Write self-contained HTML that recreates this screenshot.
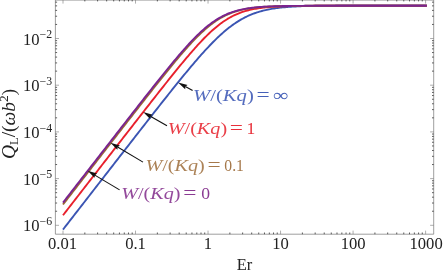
<!DOCTYPE html><html><head><meta charset="utf-8"><style>html,body{margin:0;padding:0;background:#fff}svg{display:block;will-change:transform}text{font-family:"Liberation Serif",serif}</style></head><body>
<svg width="443" height="277" viewBox="0 0 443 277">
<rect width="443" height="277" fill="#fff"/>
<polyline fill="none" stroke="#3b55b3" stroke-width="1.9" stroke-linejoin="round" points="63.00,229.58 64.21,228.01 65.43,226.45 66.64,224.89 67.85,223.33 69.06,221.77 70.28,220.20 71.49,218.64 72.70,217.08 73.91,215.52 75.13,213.96 76.34,212.40 77.55,210.83 78.77,209.27 79.98,207.71 81.19,206.15 82.40,204.59 83.62,203.03 84.83,201.46 86.04,199.90 87.26,198.34 88.47,196.78 89.68,195.22 90.89,193.66 92.11,192.10 93.32,190.53 94.53,188.97 95.74,187.41 96.96,185.85 98.17,184.29 99.38,182.73 100.60,181.17 101.81,179.61 103.02,178.05 104.23,176.49 105.45,174.92 106.66,173.36 107.87,171.80 109.09,170.24 110.30,168.68 111.51,167.12 112.72,165.56 113.94,164.00 115.15,162.44 116.36,160.88 117.57,159.32 118.79,157.76 120.00,156.20 121.21,154.65 122.43,153.09 123.64,151.53 124.85,149.97 126.06,148.41 127.28,146.85 128.49,145.30 129.70,143.74 130.92,142.18 132.13,140.62 133.34,139.07 134.55,137.51 135.77,135.96 136.98,134.40 138.19,132.85 139.40,131.29 140.62,129.74 141.83,128.19 143.04,126.63 144.26,125.08 145.47,123.53 146.68,121.98 147.89,120.43 149.11,118.88 150.32,117.33 151.53,115.79 152.75,114.24 153.96,112.69 155.17,111.15 156.38,109.61 157.60,108.07 158.81,106.53 160.02,104.99 161.23,103.45 162.45,101.92 163.66,100.38 164.87,98.85 166.09,97.32 167.30,95.79 168.51,94.27 169.72,92.74 170.94,91.22 172.15,89.71 173.36,88.19 174.58,86.68 175.79,85.17 177.00,83.67 178.21,82.17 179.43,80.67 180.64,79.18 181.85,77.69 183.06,76.20 184.28,74.72 185.49,73.25 186.70,71.78 187.92,70.32 189.13,68.86 190.34,67.42 191.55,65.97 192.77,64.54 193.98,63.11 195.19,61.69 196.41,60.28 197.62,58.88 198.83,57.49 200.04,56.11 201.26,54.74 202.47,53.39 203.68,52.04 204.89,50.71 206.11,49.38 207.32,48.08 208.53,46.78 209.75,45.51 210.96,44.24 212.17,43.00 213.38,41.77 214.60,40.56 215.81,39.36 217.02,38.19 218.24,37.03 219.45,35.89 220.66,34.78 221.87,33.68 223.09,32.61 224.30,31.56 225.51,30.53 226.72,29.53 227.94,28.55 229.15,27.59 230.36,26.66 231.58,25.75 232.79,24.87 234.00,24.01 235.21,23.18 236.43,22.38 237.64,21.60 238.85,20.84 240.07,20.11 241.28,19.41 242.49,18.73 243.70,18.07 244.92,17.44 246.13,16.84 247.34,16.26 248.55,15.70 249.77,15.17 250.98,14.66 252.19,14.17 253.41,13.70 254.62,13.26 255.83,12.83 257.04,12.42 258.26,12.04 259.47,11.67 260.68,11.32 261.90,10.99 263.11,10.67 264.32,10.38 265.53,10.09 266.75,9.82 267.96,9.57 269.17,9.33 270.38,9.10 271.60,8.89 272.81,8.68 274.02,8.49 275.24,8.31 276.45,8.14 277.66,7.98 278.87,7.82 280.09,7.68 281.30,7.55 282.51,7.42 283.73,7.30 284.94,7.19 286.15,7.08 287.36,6.98 288.58,6.89 289.79,6.80 291.00,6.72 292.21,6.64 293.43,6.56 294.64,6.50 295.85,6.43 297.07,6.37 298.28,6.31 299.49,6.26 300.70,6.21 301.92,6.16 303.13,6.12 304.34,6.08 305.56,6.04 306.77,6.00 307.98,5.97 309.19,5.93 310.41,5.90 311.62,5.88 312.83,5.85 314.04,5.83 315.26,5.80 316.47,5.78 317.68,5.76 318.90,5.74 320.11,5.72 321.32,5.71 322.53,5.69 323.75,5.67 324.96,5.66 326.17,5.65 327.39,5.64 328.60,5.62 329.81,5.61 331.02,5.60 332.24,5.59 333.45,5.59 334.66,5.58 335.87,5.57 337.09,5.56 338.30,5.56 339.51,5.55 340.73,5.54 341.94,5.54 343.15,5.53 344.36,5.53 345.58,5.52 346.79,5.52 348.00,5.51 349.22,5.51 350.43,5.51 351.64,5.50 352.85,5.50 354.07,5.50 355.28,5.50 356.49,5.49 357.70,5.49 358.92,5.49 360.13,5.49 361.34,5.48 362.56,5.48 363.77,5.48 364.98,5.48 366.19,5.48 367.41,5.48 368.62,5.47 369.83,5.47 371.05,5.47 372.26,5.47 373.47,5.47 374.68,5.47 375.90,5.47 377.11,5.47 378.32,5.47 379.53,5.47 380.75,5.46 381.96,5.46 383.17,5.46 384.39,5.46 385.60,5.46 386.81,5.46 388.02,5.46 389.24,5.46 390.45,5.46 391.66,5.46 392.88,5.46 394.09,5.46 395.30,5.46 396.51,5.46 397.73,5.46 398.94,5.46 400.15,5.46 401.36,5.46 402.58,5.46 403.79,5.46 405.00,5.46 406.22,5.46 407.43,5.46 408.64,5.46 409.85,5.46 411.07,5.46 412.28,5.46 413.49,5.46 414.71,5.46 415.92,5.46 417.13,5.46 418.34,5.46 419.56,5.46 420.77,5.46 421.98,5.46 423.19,5.46 424.41,5.46 425.62,5.46 426.83,5.46"/>
<polyline fill="none" stroke="#e8202c" stroke-width="1.9" stroke-linejoin="round" points="63.00,215.27 64.21,213.71 65.43,212.14 66.64,210.58 67.85,209.02 69.06,207.46 70.28,205.90 71.49,204.33 72.70,202.77 73.91,201.21 75.13,199.65 76.34,198.09 77.55,196.53 78.77,194.96 79.98,193.40 81.19,191.84 82.40,190.28 83.62,188.72 84.83,187.15 86.04,185.59 87.26,184.03 88.47,182.47 89.68,180.91 90.89,179.35 92.11,177.78 93.32,176.22 94.53,174.66 95.74,173.10 96.96,171.54 98.17,169.98 99.38,168.42 100.60,166.85 101.81,165.29 103.02,163.73 104.23,162.17 105.45,160.61 106.66,159.05 107.87,157.49 109.09,155.93 110.30,154.37 111.51,152.81 112.72,151.24 113.94,149.68 115.15,148.12 116.36,146.56 117.57,145.00 118.79,143.44 120.00,141.88 121.21,140.32 122.43,138.76 123.64,137.20 124.85,135.65 126.06,134.09 127.28,132.53 128.49,130.97 129.70,129.41 130.92,127.85 132.13,126.30 133.34,124.74 134.55,123.18 135.77,121.63 136.98,120.07 138.19,118.51 139.40,116.96 140.62,115.41 141.83,113.85 143.04,112.30 144.26,110.75 145.47,109.19 146.68,107.64 147.89,106.09 149.11,104.54 150.32,102.99 151.53,101.45 152.75,99.90 153.96,98.36 155.17,96.81 156.38,95.27 157.60,93.73 158.81,92.19 160.02,90.65 161.23,89.12 162.45,87.59 163.66,86.06 164.87,84.53 166.09,83.00 167.30,81.48 168.51,79.96 169.72,78.44 170.94,76.93 172.15,75.42 173.36,73.91 174.58,72.41 175.79,70.91 177.00,69.42 178.21,67.93 179.43,66.45 180.64,64.97 181.85,63.50 183.06,62.04 184.28,60.59 185.49,59.14 186.70,57.70 187.92,56.27 189.13,54.85 190.34,53.44 191.55,52.04 192.77,50.65 193.98,49.27 195.19,47.90 196.41,46.55 197.62,45.21 198.83,43.89 200.04,42.59 201.26,41.30 202.47,40.02 203.68,38.77 204.89,37.53 206.11,36.32 207.32,35.12 208.53,33.95 209.75,32.80 210.96,31.67 212.17,30.57 213.38,29.49 214.60,28.43 215.81,27.41 217.02,26.41 218.24,25.43 219.45,24.49 220.66,23.57 221.87,22.68 223.09,21.83 224.30,21.00 225.51,20.20 226.72,19.43 227.94,18.68 229.15,17.97 230.36,17.29 231.58,16.64 232.79,16.01 234.00,15.41 235.21,14.84 236.43,14.30 237.64,13.78 238.85,13.29 240.07,12.83 241.28,12.39 242.49,11.97 243.70,11.58 244.92,11.20 246.13,10.85 247.34,10.52 248.55,10.21 249.77,9.91 250.98,9.63 252.19,9.37 253.41,9.13 254.62,8.90 255.83,8.69 257.04,8.49 258.26,8.30 259.47,8.12 260.68,7.96 261.90,7.80 263.11,7.66 264.32,7.53 265.53,7.40 266.75,7.29 267.96,7.18 269.17,7.08 270.38,6.98 271.60,6.89 272.81,6.81 274.02,6.73 275.24,6.66 276.45,6.60 277.66,6.54 278.87,6.48 280.09,6.43 281.30,6.38 282.51,6.33 283.73,6.29 284.94,6.25 286.15,6.21 287.36,6.18 288.58,6.15 289.79,6.12 291.00,6.09 292.21,6.06 293.43,6.04 294.64,6.02 295.85,6.00 297.07,5.98 298.28,5.96 299.49,5.95 300.70,5.93 301.92,5.92 303.13,5.90 304.34,5.89 305.56,5.88 306.77,5.87 307.98,5.86 309.19,5.85 310.41,5.84 311.62,5.84 312.83,5.83 314.04,5.82 315.26,5.82 316.47,5.81 317.68,5.80 318.90,5.80 320.11,5.79 321.32,5.79 322.53,5.79 323.75,5.78 324.96,5.78 326.17,5.78 327.39,5.77 328.60,5.77 329.81,5.77 331.02,5.77 332.24,5.76 333.45,5.76 334.66,5.76 335.87,5.76 337.09,5.76 338.30,5.76 339.51,5.75 340.73,5.75 341.94,5.75 343.15,5.75 344.36,5.75 345.58,5.75 346.79,5.75 348.00,5.75 349.22,5.75 350.43,5.75 351.64,5.74 352.85,5.74 354.07,5.74 355.28,5.74 356.49,5.74 357.70,5.74 358.92,5.74 360.13,5.74 361.34,5.74 362.56,5.74 363.77,5.74 364.98,5.74 366.19,5.74 367.41,5.74 368.62,5.74 369.83,5.74 371.05,5.74 372.26,5.74 373.47,5.74 374.68,5.74 375.90,5.74 377.11,5.74 378.32,5.74 379.53,5.74 380.75,5.74 381.96,5.74 383.17,5.74 384.39,5.74 385.60,5.74 386.81,5.74 388.02,5.74 389.24,5.74 390.45,5.74 391.66,5.74 392.88,5.74 394.09,5.74 395.30,5.74 396.51,5.74 397.73,5.74 398.94,5.74 400.15,5.74 401.36,5.74 402.58,5.74 403.79,5.74 405.00,5.74 406.22,5.74 407.43,5.74 408.64,5.74 409.85,5.74 411.07,5.74 412.28,5.74 413.49,5.74 414.71,5.74 415.92,5.74 417.13,5.74 418.34,5.74 419.56,5.74 420.77,5.74 421.98,5.74 423.19,5.74 424.41,5.74 425.62,5.74 426.83,5.74"/>
<polyline fill="none" stroke="#9c6b33" stroke-width="1.9" stroke-linejoin="round" points="63.00,204.49 64.21,202.93 65.43,201.37 66.64,199.81 67.85,198.24 69.06,196.68 70.28,195.12 71.49,193.56 72.70,192.00 73.91,190.44 75.13,188.87 76.34,187.31 77.55,185.75 78.77,184.19 79.98,182.63 81.19,181.07 82.40,179.50 83.62,177.94 84.83,176.38 86.04,174.82 87.26,173.26 88.47,171.70 89.68,170.13 90.89,168.57 92.11,167.01 93.32,165.45 94.53,163.89 95.74,162.33 96.96,160.77 98.17,159.21 99.38,157.64 100.60,156.08 101.81,154.52 103.02,152.96 104.23,151.40 105.45,149.84 106.66,148.28 107.87,146.72 109.09,145.16 110.30,143.60 111.51,142.04 112.72,140.48 113.94,138.92 115.15,137.36 116.36,135.80 117.57,134.24 118.79,132.69 120.00,131.13 121.21,129.57 122.43,128.01 123.64,126.45 124.85,124.90 126.06,123.34 127.28,121.78 128.49,120.23 129.70,118.67 130.92,117.12 132.13,115.56 133.34,114.01 134.55,112.45 135.77,110.90 136.98,109.35 138.19,107.80 139.40,106.25 140.62,104.70 141.83,103.15 143.04,101.60 144.26,100.06 145.47,98.51 146.68,96.97 147.89,95.43 149.11,93.89 150.32,92.35 151.53,90.81 152.75,89.27 153.96,87.74 155.17,86.21 156.38,84.68 157.60,83.15 158.81,81.63 160.02,80.11 161.23,78.59 162.45,77.08 163.66,75.57 164.87,74.06 166.09,72.56 167.30,71.06 168.51,69.57 169.72,68.08 170.94,66.60 172.15,65.12 173.36,63.65 174.58,62.19 175.79,60.73 177.00,59.28 178.21,57.84 179.43,56.41 180.64,54.99 181.85,53.58 183.06,52.18 184.28,50.79 185.49,49.41 186.70,48.04 187.92,46.69 189.13,45.35 190.34,44.02 191.55,42.72 192.77,41.42 193.98,40.15 195.19,38.89 196.41,37.66 197.62,36.44 198.83,35.24 200.04,34.06 201.26,32.91 202.47,31.78 203.68,30.68 204.89,29.59 206.11,28.54 207.32,27.51 208.53,26.51 209.75,25.53 210.96,24.58 212.17,23.66 213.38,22.77 214.60,21.91 215.81,21.08 217.02,20.28 218.24,19.50 219.45,18.76 220.66,18.04 221.87,17.36 223.09,16.70 224.30,16.07 225.51,15.47 226.72,14.90 227.94,14.35 229.15,13.84 230.36,13.34 231.58,12.87 232.79,12.43 234.00,12.01 235.21,11.61 236.43,11.24 237.64,10.88 238.85,10.55 240.07,10.24 241.28,9.94 242.49,9.66 243.70,9.40 244.92,9.15 246.13,8.92 247.34,8.71 248.55,8.51 249.77,8.32 250.98,8.14 252.19,7.97 253.41,7.82 254.62,7.67 255.83,7.54 257.04,7.41 258.26,7.30 259.47,7.19 260.68,7.08 261.90,6.99 263.11,6.90 264.32,6.82 265.53,6.74 266.75,6.67 267.96,6.60 269.17,6.54 270.38,6.48 271.60,6.43 272.81,6.38 274.02,6.34 275.24,6.29 276.45,6.25 277.66,6.22 278.87,6.18 280.09,6.15 281.30,6.12 282.51,6.09 283.73,6.07 284.94,6.04 286.15,6.02 287.36,6.00 288.58,5.98 289.79,5.96 291.00,5.95 292.21,5.93 293.43,5.92 294.64,5.90 295.85,5.89 297.07,5.88 298.28,5.87 299.49,5.86 300.70,5.85 301.92,5.84 303.13,5.84 304.34,5.83 305.56,5.82 306.77,5.82 307.98,5.81 309.19,5.80 310.41,5.80 311.62,5.80 312.83,5.79 314.04,5.79 315.26,5.78 316.47,5.78 317.68,5.78 318.90,5.77 320.11,5.77 321.32,5.77 322.53,5.77 323.75,5.76 324.96,5.76 326.17,5.76 327.39,5.76 328.60,5.76 329.81,5.76 331.02,5.75 332.24,5.75 333.45,5.75 334.66,5.75 335.87,5.75 337.09,5.75 338.30,5.75 339.51,5.75 340.73,5.75 341.94,5.75 343.15,5.74 344.36,5.74 345.58,5.74 346.79,5.74 348.00,5.74 349.22,5.74 350.43,5.74 351.64,5.74 352.85,5.74 354.07,5.74 355.28,5.74 356.49,5.74 357.70,5.74 358.92,5.74 360.13,5.74 361.34,5.74 362.56,5.74 363.77,5.74 364.98,5.74 366.19,5.74 367.41,5.74 368.62,5.74 369.83,5.74 371.05,5.74 372.26,5.74 373.47,5.74 374.68,5.74 375.90,5.74 377.11,5.74 378.32,5.74 379.53,5.74 380.75,5.74 381.96,5.74 383.17,5.74 384.39,5.74 385.60,5.74 386.81,5.74 388.02,5.74 389.24,5.74 390.45,5.74 391.66,5.74 392.88,5.74 394.09,5.74 395.30,5.74 396.51,5.74 397.73,5.74 398.94,5.74 400.15,5.74 401.36,5.74 402.58,5.74 403.79,5.74 405.00,5.74 406.22,5.74 407.43,5.74 408.64,5.74 409.85,5.74 411.07,5.74 412.28,5.74 413.49,5.74 414.71,5.74 415.92,5.74 417.13,5.74 418.34,5.74 419.56,5.74 420.77,5.74 421.98,5.74 423.19,5.74 424.41,5.74 425.62,5.74 426.83,5.74"/>
<polyline fill="none" stroke="#7a2391" stroke-width="1.9" stroke-linejoin="round" points="63.00,202.62 64.21,201.06 65.43,199.49 66.64,197.93 67.85,196.37 69.06,194.81 70.28,193.25 71.49,191.69 72.70,190.12 73.91,188.56 75.13,187.00 76.34,185.44 77.55,183.88 78.77,182.32 79.98,180.75 81.19,179.19 82.40,177.63 83.62,176.07 84.83,174.51 86.04,172.95 87.26,171.38 88.47,169.82 89.68,168.26 90.89,166.70 92.11,165.14 93.32,163.58 94.53,162.02 95.74,160.46 96.96,158.89 98.17,157.33 99.38,155.77 100.60,154.21 101.81,152.65 103.02,151.09 104.23,149.53 105.45,147.97 106.66,146.41 107.87,144.85 109.09,143.29 110.30,141.73 111.51,140.17 112.72,138.61 113.94,137.05 115.15,135.49 116.36,133.93 117.57,132.37 118.79,130.82 120.00,129.26 121.21,127.70 122.43,126.14 123.64,124.59 124.85,123.03 126.06,121.47 127.28,119.92 128.49,118.36 129.70,116.81 130.92,115.25 132.13,113.70 133.34,112.14 134.55,110.59 135.77,109.04 136.98,107.49 138.19,105.94 139.40,104.39 140.62,102.84 141.83,101.29 143.04,99.75 144.26,98.20 145.47,96.66 146.68,95.12 147.89,93.58 149.11,92.04 150.32,90.50 151.53,88.97 152.75,87.44 153.96,85.90 155.17,84.38 156.38,82.85 157.60,81.33 158.81,79.81 160.02,78.29 161.23,76.78 162.45,75.27 163.66,73.76 164.87,72.26 166.09,70.76 167.30,69.27 168.51,67.79 169.72,66.30 170.94,64.83 172.15,63.36 173.36,61.90 174.58,60.44 175.79,59.00 177.00,57.56 178.21,56.13 179.43,54.71 180.64,53.30 181.85,51.90 183.06,50.51 184.28,49.13 185.49,47.77 186.70,46.42 187.92,45.08 189.13,43.76 190.34,42.46 191.55,41.17 192.77,39.90 193.98,38.64 195.19,37.41 196.41,36.20 197.62,35.00 198.83,33.83 200.04,32.68 201.26,31.56 202.47,30.46 203.68,29.38 204.89,28.33 206.11,27.31 207.32,26.31 208.53,25.34 209.75,24.40 210.96,23.48 212.17,22.60 213.38,21.74 214.60,20.92 215.81,20.12 217.02,19.35 218.24,18.61 219.45,17.90 220.66,17.22 221.87,16.57 223.09,15.95 224.30,15.36 225.51,14.79 226.72,14.25 227.94,13.74 229.15,13.25 230.36,12.78 231.58,12.35 232.79,11.93 234.00,11.54 235.21,11.17 236.43,10.82 237.64,10.49 238.85,10.18 240.07,9.88 241.28,9.61 242.49,9.35 243.70,9.11 244.92,8.88 246.13,8.67 247.34,8.47 248.55,8.28 249.77,8.11 250.98,7.94 252.19,7.79 253.41,7.65 254.62,7.51 255.83,7.39 257.04,7.27 258.26,7.17 259.47,7.07 260.68,6.97 261.90,6.88 263.11,6.80 264.32,6.73 265.53,6.66 266.75,6.59 267.96,6.53 269.17,6.47 270.38,6.42 271.60,6.37 272.81,6.33 274.02,6.28 275.24,6.24 276.45,6.21 277.66,6.17 278.87,6.14 280.09,6.11 281.30,6.09 282.51,6.06 283.73,6.04 284.94,6.02 286.15,6.00 287.36,5.98 288.58,5.96 289.79,5.94 291.00,5.93 292.21,5.91 293.43,5.90 294.64,5.89 295.85,5.88 297.07,5.87 298.28,5.86 299.49,5.85 300.70,5.84 301.92,5.83 303.13,5.83 304.34,5.82 305.56,5.81 306.77,5.81 307.98,5.80 309.19,5.80 310.41,5.79 311.62,5.79 312.83,5.79 314.04,5.78 315.26,5.78 316.47,5.78 317.68,5.77 318.90,5.77 320.11,5.77 321.32,5.77 322.53,5.76 323.75,5.76 324.96,5.76 326.17,5.76 327.39,5.76 328.60,5.76 329.81,5.75 331.02,5.75 332.24,5.75 333.45,5.75 334.66,5.75 335.87,5.75 337.09,5.75 338.30,5.75 339.51,5.75 340.73,5.75 341.94,5.74 343.15,5.74 344.36,5.74 345.58,5.74 346.79,5.74 348.00,5.74 349.22,5.74 350.43,5.74 351.64,5.74 352.85,5.74 354.07,5.74 355.28,5.74 356.49,5.74 357.70,5.74 358.92,5.74 360.13,5.74 361.34,5.74 362.56,5.74 363.77,5.74 364.98,5.74 366.19,5.74 367.41,5.74 368.62,5.74 369.83,5.74 371.05,5.74 372.26,5.74 373.47,5.74 374.68,5.74 375.90,5.74 377.11,5.74 378.32,5.74 379.53,5.74 380.75,5.74 381.96,5.74 383.17,5.74 384.39,5.74 385.60,5.74 386.81,5.74 388.02,5.74 389.24,5.74 390.45,5.74 391.66,5.74 392.88,5.74 394.09,5.74 395.30,5.74 396.51,5.74 397.73,5.74 398.94,5.74 400.15,5.74 401.36,5.74 402.58,5.74 403.79,5.74 405.00,5.74 406.22,5.74 407.43,5.74 408.64,5.74 409.85,5.74 411.07,5.74 412.28,5.74 413.49,5.74 414.71,5.74 415.92,5.74 417.13,5.74 418.34,5.74 419.56,5.74 420.77,5.74 421.98,5.74 423.19,5.74 424.41,5.74 425.62,5.74 426.83,5.74"/>
<path d="M55.40 0.00V234.20H433.70V0.00" fill="none" stroke="#6a6a6a" stroke-width="0.65"/>
<path d="M55.40 0.2H433.70" fill="none" stroke="#777" stroke-width="0.6"/>
<path d="M84.83 234.20v-1.70M84.83 0.00v1.40M97.60 234.20v-1.70M97.60 0.00v1.40M106.66 234.20v-1.70M106.66 0.00v1.40M113.69 234.20v-1.70M113.69 0.00v1.40M119.43 234.20v-1.70M119.43 0.00v1.40M124.29 234.20v-1.70M124.29 0.00v1.40M128.49 234.20v-1.70M128.49 0.00v1.40M132.20 234.20v-1.70M132.20 0.00v1.40M157.35 234.20v-1.70M157.35 0.00v1.40M170.12 234.20v-1.70M170.12 0.00v1.40M179.18 234.20v-1.70M179.18 0.00v1.40M186.21 234.20v-1.70M186.21 0.00v1.40M191.95 234.20v-1.70M191.95 0.00v1.40M196.81 234.20v-1.70M196.81 0.00v1.40M201.01 234.20v-1.70M201.01 0.00v1.40M204.72 234.20v-1.70M204.72 0.00v1.40M229.87 234.20v-1.70M229.87 0.00v1.40M242.64 234.20v-1.70M242.64 0.00v1.40M251.70 234.20v-1.70M251.70 0.00v1.40M258.73 234.20v-1.70M258.73 0.00v1.40M264.47 234.20v-1.70M264.47 0.00v1.40M269.33 234.20v-1.70M269.33 0.00v1.40M273.53 234.20v-1.70M273.53 0.00v1.40M277.24 234.20v-1.70M277.24 0.00v1.40M302.39 234.20v-1.70M302.39 0.00v1.40M315.16 234.20v-1.70M315.16 0.00v1.40M324.22 234.20v-1.70M324.22 0.00v1.40M331.25 234.20v-1.70M331.25 0.00v1.40M336.99 234.20v-1.70M336.99 0.00v1.40M341.85 234.20v-1.70M341.85 0.00v1.40M346.05 234.20v-1.70M346.05 0.00v1.40M349.76 234.20v-1.70M349.76 0.00v1.40M374.91 234.20v-1.70M374.91 0.00v1.40M387.68 234.20v-1.70M387.68 0.00v1.40M396.74 234.20v-1.70M396.74 0.00v1.40M403.77 234.20v-1.70M403.77 0.00v1.40M409.51 234.20v-1.70M409.51 0.00v1.40M414.37 234.20v-1.70M414.37 0.00v1.40M418.57 234.20v-1.70M418.57 0.00v1.40M422.28 234.20v-1.70M422.28 0.00v1.40M55.40 211.24h1.70M433.70 211.24h-1.70M55.40 203.02h1.70M433.70 203.02h-1.70M55.40 197.18h1.70M433.70 197.18h-1.70M55.40 192.66h1.70M433.70 192.66h-1.70M55.40 188.96h1.70M433.70 188.96h-1.70M55.40 185.83h1.70M433.70 185.83h-1.70M55.40 183.13h1.70M433.70 183.13h-1.70M55.40 180.74h1.70M433.70 180.74h-1.70M55.40 164.54h1.70M433.70 164.54h-1.70M55.40 156.32h1.70M433.70 156.32h-1.70M55.40 150.48h1.70M433.70 150.48h-1.70M55.40 145.96h1.70M433.70 145.96h-1.70M55.40 142.26h1.70M433.70 142.26h-1.70M55.40 139.13h1.70M433.70 139.13h-1.70M55.40 136.43h1.70M433.70 136.43h-1.70M55.40 134.04h1.70M433.70 134.04h-1.70M55.40 117.84h1.70M433.70 117.84h-1.70M55.40 109.62h1.70M433.70 109.62h-1.70M55.40 103.78h1.70M433.70 103.78h-1.70M55.40 99.26h1.70M433.70 99.26h-1.70M55.40 95.56h1.70M433.70 95.56h-1.70M55.40 92.43h1.70M433.70 92.43h-1.70M55.40 89.73h1.70M433.70 89.73h-1.70M55.40 87.34h1.70M433.70 87.34h-1.70M55.40 71.14h1.70M433.70 71.14h-1.70M55.40 62.92h1.70M433.70 62.92h-1.70M55.40 57.08h1.70M433.70 57.08h-1.70M55.40 52.56h1.70M433.70 52.56h-1.70M55.40 48.86h1.70M433.70 48.86h-1.70M55.40 45.73h1.70M433.70 45.73h-1.70M55.40 43.03h1.70M433.70 43.03h-1.70M55.40 40.64h1.70M433.70 40.64h-1.70M55.40 24.44h1.70M433.70 24.44h-1.70M55.40 16.22h1.70M433.70 16.22h-1.70M55.40 10.38h1.70M433.70 10.38h-1.70M55.40 5.86h1.70M433.70 5.86h-1.70M55.40 2.16h1.70M433.70 2.16h-1.70" stroke="#333" stroke-width="0.8" fill="none"/>
<path d="M63.00 234.20v-3.60M63.00 0.00v3.60M135.52 234.20v-3.60M135.52 0.00v3.60M208.04 234.20v-3.60M208.04 0.00v3.60M280.56 234.20v-3.60M280.56 0.00v3.60M353.08 234.20v-3.60M353.08 0.00v3.60M425.60 234.20v-3.60M425.60 0.00v3.60M55.40 225.30h3.60M433.70 225.30h-3.60M55.40 178.60h3.60M433.70 178.60h-3.60M55.40 131.90h3.60M433.70 131.90h-3.60M55.40 85.20h3.60M433.70 85.20h-3.60M55.40 38.50h3.60M433.70 38.50h-3.60" stroke="#777" stroke-width="0.6" fill="none"/>
<text x="62.6" y="248.8" font-size="16.6" text-anchor="middle" fill="#222">0.01</text>
<text x="135.5" y="248.8" font-size="16.6" text-anchor="middle" fill="#222">0.1</text>
<text x="208.0" y="248.8" font-size="16.6" text-anchor="middle" fill="#222">1</text>
<text x="280.6" y="248.8" font-size="16.6" text-anchor="middle" fill="#222">10</text>
<text x="353.1" y="248.8" font-size="16.6" text-anchor="middle" fill="#222">100</text>
<text x="426.1" y="248.8" font-size="16.6" text-anchor="middle" fill="#222">1000</text>
<text x="52.1" y="231.3" font-size="16.6" text-anchor="end" fill="#222">10<tspan dy="-6.2" font-size="11.8">−6</tspan></text>
<text x="52.1" y="184.6" font-size="16.6" text-anchor="end" fill="#222">10<tspan dy="-6.2" font-size="11.8">−5</tspan></text>
<text x="52.1" y="137.9" font-size="16.6" text-anchor="end" fill="#222">10<tspan dy="-6.2" font-size="11.8">−4</tspan></text>
<text x="52.1" y="91.2" font-size="16.6" text-anchor="end" fill="#222">10<tspan dy="-6.2" font-size="11.8">−3</tspan></text>
<text x="52.1" y="44.5" font-size="16.6" text-anchor="end" fill="#222">10<tspan dy="-6.2" font-size="11.8">−2</tspan></text>
<text x="244.5" y="270" font-size="16.5" text-anchor="middle" fill="#222">Er</text>
<text id="ylab" transform="translate(14.6,158.9) rotate(-90)" font-size="18" textLength="70" lengthAdjust="spacingAndGlyphs" fill="#222"><tspan font-style="italic">Q</tspan><tspan dy="3.5" font-size="11.5">L</tspan><tspan dy="-3.5">/(</tspan><tspan font-style="italic">ωb</tspan><tspan dy="-6.5" font-size="12.5">2</tspan><tspan dy="6.5">)</tspan></text>
<text x="193.0" y="100.7" font-size="17.5" fill="#4560b8" fill-opacity="0.92" textLength="60.8" lengthAdjust="spacingAndGlyphs"><tspan font-style="italic">W</tspan>/(<tspan font-style="italic">Kq</tspan>)</text>
<text x="256.6" y="100.7" font-size="18" fill="#4560b8" textLength="13.2" lengthAdjust="spacingAndGlyphs">=</text>
<text x="273.2" y="100.7" font-size="17.6" fill="#4560b8" textLength="15.4" lengthAdjust="spacingAndGlyphs">∞</text>
<text x="167.8" y="133.5" font-size="17.5" fill="#e8303a" fill-opacity="0.92" textLength="59.3" lengthAdjust="spacingAndGlyphs"><tspan font-style="italic">W</tspan>/(<tspan font-style="italic">Kq</tspan>)</text>
<text x="229.8" y="133.5" font-size="18" fill="#e8303a" textLength="13.2" lengthAdjust="spacingAndGlyphs">=</text>
<text x="246.5" y="133.5" font-size="17.6" fill="#e8303a">1</text>
<text x="145.5" y="170.8" font-size="17.5" fill="#a5784a" fill-opacity="0.92" textLength="59.3" lengthAdjust="spacingAndGlyphs"><tspan font-style="italic">W</tspan>/(<tspan font-style="italic">Kq</tspan>)</text>
<text x="207.6" y="170.8" font-size="18" fill="#a5784a" textLength="13.2" lengthAdjust="spacingAndGlyphs">=</text>
<text x="224.3" y="170.8" font-size="17.6" fill="#a5784a" textLength="19.6" lengthAdjust="spacingAndGlyphs">0.1</text>
<text x="121.2" y="199.1" font-size="17.5" fill="#8a3a92" fill-opacity="0.92" textLength="59.3" lengthAdjust="spacingAndGlyphs"><tspan font-style="italic">W</tspan>/(<tspan font-style="italic">Kq</tspan>)</text>
<text x="183.3" y="199.1" font-size="18" fill="#8a3a92" textLength="13.2" lengthAdjust="spacingAndGlyphs">=</text>
<text x="201.2" y="199.1" font-size="17.6" fill="#8a3a92">0</text>
<path d="M192.60 90.60L185.35 86.58" stroke="#111" stroke-width="1.1"/>
<path d="M178.00 82.50L187.58 85.01L185.35 86.58L185.21 89.30Z" fill="#111"/>
<path d="M167.00 125.80L150.37 116.20" stroke="#111" stroke-width="1.1"/>
<path d="M143.10 112.00L152.64 114.68L150.37 116.20L150.19 118.92Z" fill="#111"/>
<path d="M143.00 162.10L117.63 147.08" stroke="#111" stroke-width="1.1"/>
<path d="M110.40 142.80L119.91 145.58L117.63 147.08L117.41 149.80Z" fill="#111"/>
<path d="M119.60 189.90L94.81 175.11" stroke="#111" stroke-width="1.1"/>
<path d="M87.60 170.80L97.10 173.62L94.81 175.11L94.59 177.82Z" fill="#111"/>
</svg></body></html>
